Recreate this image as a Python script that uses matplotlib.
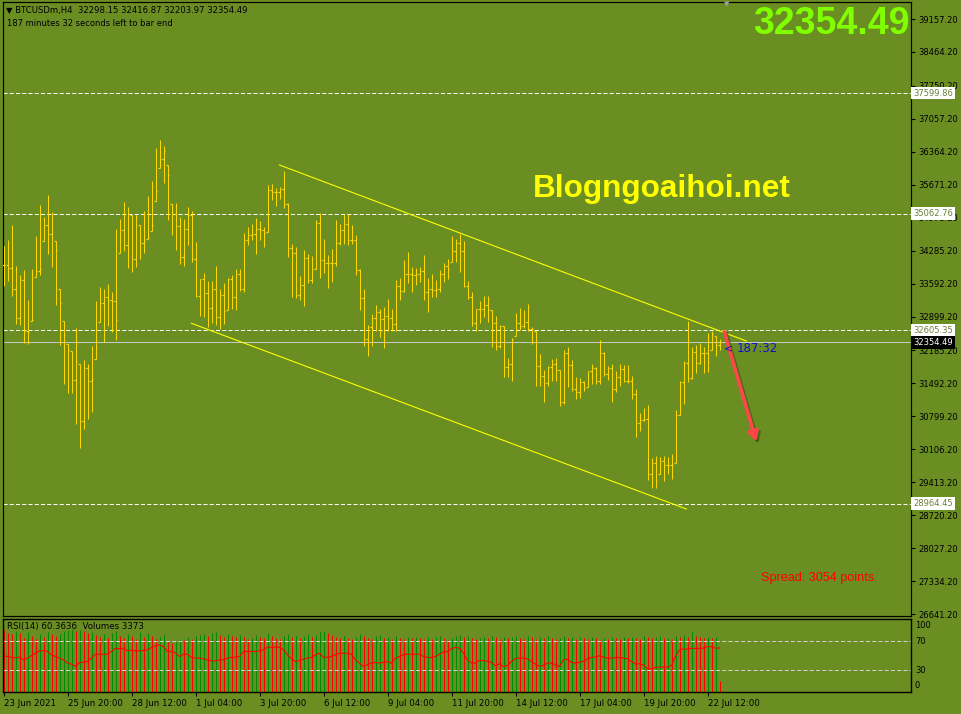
import numpy as np
import matplotlib
matplotlib.use("Agg")
from matplotlib import pyplot as plt
from matplotlib import transforms as mtransforms

# H4 bars, BTCUSDm, 23 Jun 04:00 .. 23 Jul 00:00
highs = [34381, 34501, 34817, 33953, 33763, 33869, 33237, 33904, 34585, 35238,
         34985, 35463, 35098, 34480, 33468, 32815, 32324, 32183, 32654, 31902,
         31994, 31909, 32274, 33223, 33511, 33468, 33574, 33412, 34733, 34957,
         35308, 35196, 35027, 35027, 34817, 35112, 35428, 35744, 36446, 36608,
         36481, 36081, 35273, 35280, 34985, 34957, 35203, 35119, 34465, 33686,
         33819, 33644, 33644, 33953, 33468, 33602, 33700, 33763, 33904, 33896,
         34655, 34781, 34852, 34971, 34908, 34781, 35666, 35680, 35610, 35624,
         35954, 35294, 34430, 34360, 33742, 34290, 34220, 34163, 34936, 35083,
         34529, 34184, 34311, 34922, 34852, 35062, 35062, 34817, 34606, 33904,
         33468, 32710, 32956, 33131, 33061, 33096, 33272, 33047, 33672, 33700,
         34079, 34262, 33939, 33925, 33939, 34185, 33700, 33798, 33658, 33869,
         34023, 34114, 34585, 34522, 34641, 34480, 33637, 33405, 33061, 33222,
         33321, 33321, 33026, 32920, 32724, 32703, 32022, 32443, 32970, 33082,
         33026, 33166, 32675, 32604, 32113, 31776, 31867, 32007, 32021, 31783,
         32204, 32253, 31986, 31621, 31607, 31537, 31762, 31902, 31832, 32415,
         32148, 31867, 31902, 31762, 31902, 31881, 31881, 31656, 31375, 30863,
         30975, 31045, 29915, 29971, 29950, 29971, 29950, 30006, 30940, 31551,
         31972, 32815, 32253, 32302, 32337, 32267, 32555, 32604, 32499, 32416.87]
lows = [33539, 33644, 33328, 32745, 32731, 32345, 32324, 32801, 33728, 33763,
        34480, 34213, 33939, 33145, 32303, 31481, 31284, 31284, 30638, 30125,
        30533, 30736, 30884, 32008, 32780, 32359, 32696, 32570, 32401, 34234,
        34276, 33918, 33834, 33939, 34107, 34241, 34536, 34697, 35329, 36025,
        35709, 34929, 34620, 34297, 34009, 33953, 34395, 34050, 33307, 32906,
        32885, 32674, 32759, 32710, 32639, 32745, 33026, 33061, 33026, 33426,
        33412, 34395, 34500, 34220, 34500, 34360, 34676, 35343, 35224, 35378,
        35189, 34149, 33307, 33293, 33250, 33117, 33602, 33609, 33904, 33714,
        33812, 33496, 33623, 33953, 34395, 34430, 34395, 34416, 33763, 33026,
        32274, 32064, 32288, 32604, 32464, 32232, 32604, 32604, 32604, 33251,
        33412, 33602, 33412, 33553, 33623, 33236, 32991, 33307, 33307, 33412,
        33623, 33693, 34044, 34044, 33833, 33517, 33258, 32689, 32604, 32766,
        32885, 32780, 32253, 32197, 32239, 31635, 31621, 31537, 32499, 32618,
        32661, 32604, 32324, 31446, 31446, 31094, 31446, 31551, 31551, 31010,
        31059, 31410, 31340, 31165, 31186, 31340, 31410, 31481, 31481, 31481,
        31656, 31565, 31094, 31305, 31431, 31516, 31495, 31165, 30371, 30497,
        30708, 29465, 29282, 29282, 29584, 29444, 29584, 29472, 29809, 30827,
        31059, 31516, 31586, 31705, 31902, 31705, 31726, 32197, 32064, 32203.97]
closes = [33974, 33925, 33482, 32864, 33672, 32591, 32570, 32829, 33862, 33904,
          34831, 34641, 35063, 34304, 33187, 32520, 32197, 31572, 31965, 30701,
          31818, 31544, 31586, 32260, 33187, 33314, 33251, 33216, 32829, 34718,
          34409, 35063, 34114, 34985, 34452, 34494, 34578, 34831, 35547, 36221,
          36383, 35884, 35063, 34803, 34157, 34746, 35027, 34100, 33320, 33679,
          33398, 33082, 33468, 32885, 33349, 33005, 33679, 33314, 33784, 33482,
          34515, 34620, 34627, 34746, 34711, 34662, 35568, 35519, 35512, 35582,
          35273, 34346, 34241, 33356, 33566, 34128, 33672, 33904, 34873, 34079,
          34030, 34030, 34030, 34451, 34711, 34838, 34515, 34515, 33868, 33293,
          32429, 32675, 32871, 32991, 32850, 32906, 32871, 32745, 33545, 33440,
          33798, 33784, 33777, 33798, 33862, 33405, 33482, 33461, 33482, 33798,
          33967, 33904, 34269, 34451, 34283, 33531, 33314, 32766, 33054, 33061,
          33145, 33026, 32766, 32274, 32703, 31832, 31902, 32429, 32766, 32696,
          32794, 32640, 32626, 31860, 31656, 31502, 31846, 31902, 31776, 31094,
          32134, 31888, 31375, 31319, 31516, 31396, 31748, 31818, 31551, 32134,
          31691, 31811, 31375, 31635, 31797, 31551, 31551, 31270, 30659, 30722,
          30743, 29584, 29816, 29444, 29865, 29774, 29774, 29774, 30827, 31530,
          31916, 31607, 32148, 31923, 32134, 32134, 31951, 32534, 32298.15, 32354.49]
first_open = 33974

rsi = [49.6, 48.7, 47.8, 46.8, 47.8, 44.1, 46.4, 50.0, 53.2, 56.4,
       56.8, 55.5, 50.9, 48.7, 46.4, 44.1, 39.6, 38.2, 35.0, 40.5,
       40.9, 41.8, 46.4, 51.8, 51.8, 51.8, 51.8, 55.5, 60.0, 59.1,
       60.0, 56.4, 57.3, 56.4, 56.4, 56.8, 57.8, 60.9, 63.2, 64.6,
       62.3, 55.5, 55.5, 53.2, 48.7, 51.8, 51.8, 47.3, 46.4, 46.4,
       45.5, 44.1, 42.7, 42.7, 44.1, 44.1, 46.4, 47.3, 47.8, 48.7,
       55.5, 55.5, 55.5, 55.5, 56.4, 57.8, 61.4, 61.4, 61.4, 61.4,
       57.8, 50.9, 45.5, 41.8, 43.2, 45.0, 46.4, 47.3, 50.9, 53.2,
       47.3, 47.8, 48.7, 50.9, 53.2, 53.2, 53.2, 51.8, 44.1, 39.6,
       35.0, 37.3, 39.6, 40.5, 39.6, 40.5, 41.8, 39.6, 46.4, 48.7,
       50.9, 51.8, 51.8, 51.8, 51.8, 48.7, 47.3, 47.3, 48.7, 51.8,
       54.6, 55.5, 59.1, 61.4, 60.0, 53.2, 44.1, 39.6, 39.6, 43.2,
       43.2, 41.8, 40.5, 35.9, 38.7, 35.0, 35.9, 41.8, 45.9, 46.4,
       46.4, 45.5, 41.8, 38.2, 35.0, 36.4, 39.6, 39.6, 37.3, 35.0,
       44.1, 45.0, 40.5, 39.6, 40.9, 41.8, 45.5, 47.3, 48.2, 49.6,
       47.8, 46.4, 46.4, 47.3, 47.3, 46.4, 45.5, 41.8, 38.2, 38.7,
       37.3, 31.8, 31.8, 33.7, 34.1, 34.1, 34.1, 36.4, 48.7, 57.8,
       59.1, 58.7, 60.0, 59.6, 60.0, 60.0, 62.3, 61.9, 60.0, 60.36]

volumes = [18600, 17800, 17300, 18400, 17600, 16200, 17900, 16900, 15900, 17400,
           16400, 18000, 17300, 16800, 17500, 18200, 18600, 18900, 18400, 18700,
           18200, 17800, 18000, 17000, 16600, 17500, 16300, 17700, 18200, 16800,
           16200, 17400, 16700, 15800, 17900, 16600, 17800, 16900, 15900, 16500,
           17200, 15400, 14800, 15100, 16000, 15600, 16400, 15800, 16900, 17000,
           17400, 16800, 17600, 17900, 17200, 16600, 17500, 16800, 16400, 17000,
           16500, 15800, 16200, 17100, 16600, 16300, 17600, 16900, 16200, 15900,
           16800, 17300, 16600, 16900, 16200, 16800, 17400, 16500, 17200, 18100,
           18400, 17800, 17000, 16500, 16100, 16700, 16300, 15900, 16600, 17400,
           16800, 16300, 15800, 16900, 17100, 16200, 16600, 16000, 16700, 16300,
           15900, 16400, 16100, 16600, 16200, 15800, 16400, 16000, 16500, 16900,
           16300, 15700, 16300, 16800, 17000, 16400, 16700, 16100, 15800, 16300,
           16600, 16200, 16900, 16400, 16000, 16600, 16200, 16500, 16700, 16300,
           16000, 16800, 16400, 15900, 16500, 16300, 16700, 16100, 15800, 16200,
           16700, 16300, 16500, 16000, 16600, 16200, 15900, 16500, 16100, 15700,
           16300, 16000, 16400, 16200, 15900, 16400, 16100, 16500, 16200, 15800,
           16900, 16400, 16200, 16500, 16700, 16100, 16300, 16000, 16800, 16400,
           17000, 16500, 18300, 16700, 16400, 16200, 16600, 16300, 16400, 3373]

time_labels = ["23 Jun 2021", "25 Jun 20:00", "28 Jun 12:00", "1 Jul 04:00",
               "3 Jul 20:00", "6 Jul 12:00", "9 Jul 04:00", "11 Jul 20:00",
               "14 Jul 12:00", "17 Jul 04:00", "19 Jul 20:00", "22 Jul 12:00"]
time_label_bars = [0, 16, 32, 48, 64, 80, 96, 112, 128, 144, 160, 176]

price_ticks = [39157.20, 38464.20, 37750.20, 37057.20, 36364.20, 35671.20,
               34978.20, 34285.20, 33592.20, 32899.20, 32185.20, 31492.20,
               30799.20, 30106.20, 29413.20, 28720.20, 28027.20, 27334.20,
               26641.20]
hlines_levels = [37599.86, 35062.76, 32605.35, 28964.45]
bid = 32354.49

upper_channel = ([69, 185.7], [36086, 32384])
lower_channel = ([47, 170.7], [32756, 28850])
arrow_from = (180.2, 32579)
arrow_to = (188.2, 30266)

BG = "#6b8e23"
W, H = 962, 714

fig = plt.figure(figsize=(W / 100, H / 100), dpi=100)
fig.patch.set_facecolor(BG)
plt.rcParams["lines.scale_dashes"] = False
px = 0.72  # one pixel in points

L, R = 3, 911
ax = fig.add_axes([L / W, 1 - 616 / H, (R - L) / W, (616 - 2) / H])
axv = fig.add_axes([L / W, 1 - 692 / H, (R - L) / W, 73 / H])
axr = fig.add_axes([L / W, 1 - 692 / H, (R - L) / W, 73 / H])

n = len(closes)
idx = np.arange(n)
opens = np.clip(np.r_[first_open, closes[:-1]], lows, highs)

# 4 px per bar, bars on pixel centres
x0 = -0.125
for a in (ax, axv, axr):
    a.set_xlim(x0, x0 + (R - L) / 4)
    for s in a.spines.values():
        s.set_color("black")
        s.set_linewidth(1.2 * px)
ax.set_facecolor(BG)
axv.set_facecolor(BG)
axr.patch.set_visible(False)

# main price panel
ax.set_ylim(26599.3, 39514.8)
for lvl in hlines_levels:
    ax.axhline(lvl, color="white", lw=1.0 * px, dashes=(2.9, 1.6), zorder=1)
ax.axhline(bid, color="#c8c8c8", lw=1.0 * px, zorder=1)

bar_c = "#ffd700"
ax.vlines(idx, lows, highs, colors=bar_c, lw=px, zorder=3)
ax.hlines(opens, idx - 0.3, idx, colors=bar_c, lw=1.2 * px, zorder=3)
ax.hlines(closes, idx, idx + 0.3, colors=bar_c, lw=1.2 * px, zorder=3)

ax.plot(*upper_channel, color="#ffff00", lw=1.1 * px, zorder=4)
ax.plot(*lower_channel, color="#ffff00", lw=1.1 * px, zorder=4)

shadow = mtransforms.offset_copy(ax.transData, fig=fig, x=2, y=-2, units="dots")
ax.annotate("", xy=arrow_to, xycoords=shadow, xytext=arrow_from, textcoords=shadow,
            arrowprops=dict(arrowstyle="-|>,head_length=0.55,head_width=0.3",
                            color="#3f5a12", lw=2.6, alpha=0.7, shrinkA=0, shrinkB=0),
            zorder=5)
ax.annotate("", xy=arrow_to, xytext=arrow_from,
            arrowprops=dict(arrowstyle="-|>,head_length=0.55,head_width=0.3",
                            color="#ff4747", lw=2.6, shrinkA=0, shrinkB=0),
            zorder=6)

ax.yaxis.tick_right()
ax.set_yticks(price_ticks)
ax.set_yticklabels([f"{p:.2f}" for p in price_ticks], fontsize=6.0)
ax.tick_params(axis="y", direction="out", length=3, width=0.8, pad=2, colors="black")
ax.set_xticks([])

ytr = mtransforms.blended_transform_factory(ax.transAxes, ax.transData)
for lvl in hlines_levels:
    ax.text(1.0025, lvl, f"{lvl:.2f}", transform=ytr, fontsize=6.0, color="#6b7f3a",
            va="center", ha="left", clip_on=False, zorder=10,
            bbox=dict(boxstyle="square,pad=0.22", fc="white", ec="none"))
ax.text(1.0025, bid, f"{bid:.2f}", transform=ytr, fontsize=6.0, color="white",
        va="center", ha="left", clip_on=False, zorder=10,
        bbox=dict(boxstyle="square,pad=0.22", fc="black", ec="none"))

# indicator panel: volumes + RSI(14)
axv.set_ylim(0, 21880)
vol_colors = ["#008c00" if i > 0 and volumes[i] > volumes[i - 1] else "#ff0000"
              for i in idx]
axv.vlines(idx, 0, volumes, colors=vol_colors, lw=px)
axv.set_xticks([])
axv.set_yticks([])

axr.set_ylim(0, 100)
for lvl in (70, 30):
    axr.axhline(lvl, color="#d0d0d0", lw=1.0 * px, dashes=(2.9, 1.6))
axr.plot(idx, rsi, color="#ff0000", lw=1.1 * px)
axr.set_yticks([])
axr.set_xticks(time_label_bars)
axr.set_xticklabels(time_labels, fontsize=6.2, ha="left")
axr.tick_params(axis="x", direction="out", length=3, width=0.8, pad=2, colors="black")
for lbl, yy in (("100", 625.7), ("70", 641.7), ("30", 670.3), ("0", 685.3)):
    fig.text(915 / W, 1 - yy / H, lbl, fontsize=6.0, va="center", ha="left")

fig.text(7 / W, 1 - 627 / H, "RSI(14) 60.3636  Volumes 3373", fontsize=6.2,
         va="center", ha="left")

# header and overlays
fig.text(6 / W, 1 - 10 / H, "\u25bc BTCUSDm,H4  32298.15 32416.87 32203.97 32354.49",
         fontsize=6.1, va="center", ha="left")
fig.text(7 / W, 1 - 23 / H, "187 minutes 32 seconds left to bar end",
         fontsize=6.0, va="center", ha="left")
fig.text(910 / W, 1 - 24 / H, "32354.49", fontsize=27, fontweight="bold",
         family="Liberation Sans", color="#80ff00", va="center", ha="right")
fig.text(662 / W, 1 - 189 / H, "Blogngoaihoi.net", fontsize=22.7, fontweight="bold",
         family="Liberation Sans", color="#ffff00", va="center", ha="center")
fig.text(761 / W, 1 - 578 / H, "Spread: 3054 points.", fontsize=9.1,
         family="Liberation Sans", color="#ff0000", va="center", ha="left")
fig.text(724 / W, 1 - 348 / H, "<", fontsize=8, color="#1010cc", va="center", ha="left")
fig.text(737 / W, 1 - 348 / H, "187:32", fontsize=8.5, color="#1010cc",
         va="center", ha="left")
fig.text(727 / W, 1 - 4 / H, "\u25bc", fontsize=5, color="#a0a0a0", va="center", ha="center")

fig.savefig("out.png", dpi=100, facecolor=BG)
